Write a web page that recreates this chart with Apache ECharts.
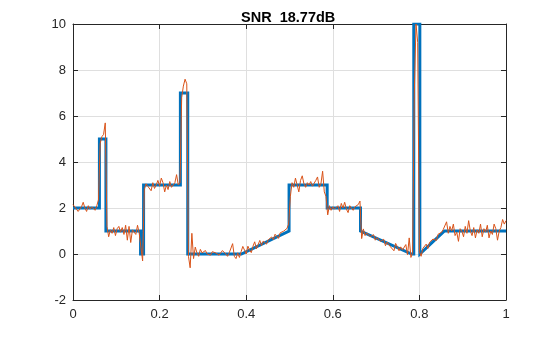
<!DOCTYPE html>
<html>
<head>
<meta charset="utf-8">
<script src="https://cdn.jsdelivr.net/npm/echarts@6/dist/echarts.min.js"></script>
<style>html,body{margin:0;padding:0;background:#fff}#c{width:560px;height:337px}</style>
</head>
<body>
<div id="c"></div>
<script>
// Clean piecewise signal (blue) breakpoints
var cleanX = [0, 0.061, 0.061, 0.076, 0.076, 0.156, 0.156, 0.163, 0.163, 0.248, 0.248, 0.265, 0.265, 0.389, 0.499, 0.499, 0.587, 0.587, 0.664, 0.664, 0.782, 0.787, 0.787, 0.801, 0.801, 0.858, 1];
var cleanY = [2, 2, 5, 5, 1, 1, 0, 0, 3, 3, 7, 7, 0, 0, 1, 3, 3, 2, 2, 1, 0, 0, 10, 10, 0, 1, 1];

// Noisy signal (orange), 256 samples evenly spaced on [0,1]
var noisyY = [
  2.15, 2.1, 1.95, 1.85, 1.9, 2.05, 2.25, 2.0, 1.85, 2.1, 1.95, 2.05, 2.0, 1.9, 2.1, 2.35,
  4.8, 5.1, 5.2, 5.7,
  1.2, 0.75, 1.05, 0.9, 1.15, 0.8, 1.1, 1.2, 0.95, 1.15, 0.85, 1.25, 0.6, 1.2, 0.5, 1.05, 1.1, 0.85, 1.25, 0.9,
  0.3, -0.3,
  2.8, 3.05, 2.95, 3.0, 2.75, 3.1, 2.85, 3.0, 3.2, 2.95, 3.3, 3.1, 2.7, 3.0, 2.8, 3.15, 2.9, 3.0, 3.1, 3.45, 3.0, 3.1,
  6.8, 7.3, 7.6, 7.4,
  -0.1, -0.6, 0.9, -0.2, 0.3, 0.05, -0.1, 0.2, 0.05, 0.1, 0.15, 0.0,
  0.0, -0.05, 0.1, 0.15, 0.05, 0.1, -0.05, 0.05, 0.15, 0.1, 0.0, -0.1, 0.05, 0.0, 0.45, -0.1, -0.2, 0.05, -0.15, 0.1,
  0.33, 0.17, 0.0, 0.34, 0.17, 0.06, 0.34, 0.53, 0.22, 0.40, 0.59, 0.37, 0.56, 0.64, 0.43, 0.62, 0.60, 0.74, 0.62, 0.86, 0.79, 0.68, 0.92, 0.85, 0.99, 0.97, 1.11, 1.3,
  2.5, 3.1, 2.9, 3.3, 3.0, 2.7, 3.2, 3.4, 3.05, 2.9, 3.1, 3.0, 3.15, 2.95, 3.0, 3.2, 3.35, 2.9, 3.05, 3.6, 2.7, 2.5,
  1.7, 2.1, 1.9, 2.05, 1.95, 2.0, 2.1, 1.85, 2.2, 2.0, 2.25, 1.95, 1.8, 2.1, 2.0, 1.9, 2.05, 2.0, 2.15, 2.3,
  0.67, 1.09, 0.80, 0.92, 0.94, 0.75, 0.77, 0.84, 0.60, 0.72, 0.79, 0.55, 0.57, 0.64, 0.36, 0.52, 0.54, 0.31, 0.37, 0.14, 0.46, 0.32, 0.14, 0.31, 0.17, 0.09, 0.41, -0.03, 0.7, -0.15, 0.05,
  7.0, 10.0, 9.2, 0.1,
  -0.1, 0.24, 0.16, 0.43, 0.24, 0.51, 0.43, 0.65, 0.67, 0.59, 0.86, 0.83, 0.94, 1.06, 1.05,
  1.4, 0.9, 1.2, 1.0, 1.3, 0.8, 0.95, 0.55, 1.1, 1.0, 0.75, 1.2, 0.9, 1.45, 1.0, 0.8, 1.15, 0.7, 1.05, 0.9, 1.3, 0.75, 1.1, 0.95, 1.25, 0.7, 1.0, 0.85, 1.3, 1.1, 0.6, 1.0, 1.15, 1.5, 1.3, 1.45
];

var titleText = 'SNR  18.77dB';
var xMin = 0, xMax = 1, xStep = 0.2;
var yMin = -2, yMax = 10, yStep = 2;

var blueData = cleanX.map(function (x, i) { return [x, cleanY[i]]; });
var n = noisyY.length;
var orangeData = noisyY.map(function (y, i) { return [i / (n - 1), y]; });

var chart = echarts.init(document.getElementById('c'), null, {renderer: 'canvas'});
var font = 'Liberation Sans, Arial, Helvetica, sans-serif';
var axisCol = '#262626';
var gridCol = '#dfdfdf';
chart.setOption({
  animation: false,
  backgroundColor: '#ffffff',
  title: {
    text: titleText, left: 236, top: 5,
    textStyle: {fontFamily: font, fontSize: 14.5, fontWeight: 'bold', color: '#000'}
  },
  grid: {left: 73, right: 54, top: 24, bottom: 37, containLabel: false},
  xAxis: [{
    type: 'value', min: xMin, max: xMax, interval: xStep, position: 'bottom',
    axisLine: {show: true, onZero: false, lineStyle: {color: axisCol, width: 1}},
    axisTick: {show: true, inside: true, length: 5, lineStyle: {color: axisCol}},
    axisLabel: {color: axisCol, fontFamily: font, fontSize: 13, margin: 8},
    splitLine: {show: true, lineStyle: {color: gridCol, width: 1}}
  }, {
    type: 'value', min: xMin, max: xMax, interval: xStep, position: 'top',
    axisLine: {show: true, onZero: false, lineStyle: {color: axisCol, width: 1}},
    axisTick: {show: true, inside: true, length: 5, lineStyle: {color: axisCol}},
    axisLabel: {show: false}, splitLine: {show: false}
  }],
  yAxis: [{
    type: 'value', min: yMin, max: yMax, interval: yStep, position: 'left',
    axisLine: {show: true, onZero: false, lineStyle: {color: axisCol, width: 1}},
    axisTick: {show: true, inside: true, length: 5, lineStyle: {color: axisCol}},
    axisLabel: {color: axisCol, fontFamily: font, fontSize: 13, margin: 7},
    splitLine: {show: true, lineStyle: {color: gridCol, width: 1}}
  }, {
    type: 'value', min: yMin, max: yMax, interval: yStep, position: 'right',
    axisLine: {show: true, onZero: false, lineStyle: {color: axisCol, width: 1}},
    axisTick: {show: true, inside: true, length: 5, lineStyle: {color: axisCol}},
    axisLabel: {show: false}, splitLine: {show: false}
  }],
  series: [{
    type: 'line', data: blueData, xAxisIndex: 0, yAxisIndex: 0,
    showSymbol: false, symbol: 'none',
    lineStyle: {color: '#0072BD', width: 3, join: 'miter'}
  }, {
    type: 'line', data: orangeData, xAxisIndex: 0, yAxisIndex: 0,
    showSymbol: false, symbol: 'none',
    lineStyle: {color: '#D95319', width: 1}
  }]
});
</script>
</body>
</html>
